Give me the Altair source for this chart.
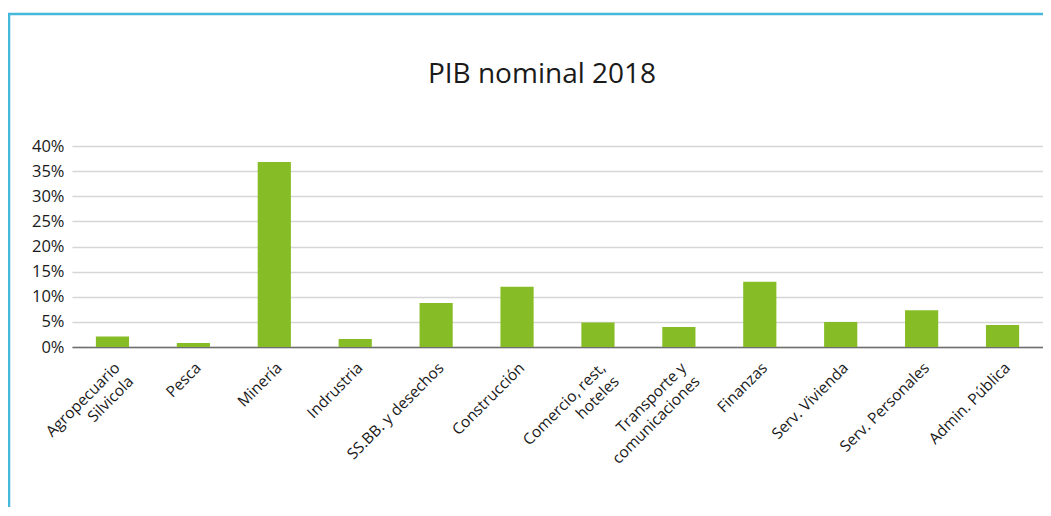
import altair as alt
import pandas as pd

title_text = "PIB nominal 2018"
categories = [
    "Agropecuario|Silvicola", "Pesca", "Minería", "Indrustria",
    "SS.BB. y desechos", "Construcción", "Comercio, rest,|hoteles",
    "Transporte y|comunicaciones", "Finanzas", "Serv. Vivienda",
    "Serv. Personales", "Admin. Pública",
]
values = [2.1, 0.8, 36.8, 1.6, 8.75, 12.0, 4.9, 4.0, 13.0, 5.0, 7.3, 4.4]
y_ticks = [0, 5, 10, 15, 20, 25, 30, 35, 40]

df = pd.DataFrame({"sector": categories, "valor": values})

FONT = "Open Sans"

bars = alt.Chart(df).mark_bar(color="#86bc25").encode(
    x=alt.X(
        "sector:N", sort=categories, title=None,
        scale=alt.Scale(paddingInner=0.59, paddingOuter=0.295),
        axis=alt.Axis(
            labelAngle=-45, labelAlign="right", labelBaseline="top",
            labelExpr="split(datum.label, '|')",
            labelFont=FONT, labelFontSize=15.5, labelColor="#1a1a1a",
            labelPadding=13, labelLineHeight=19,
            ticks=False, domainColor="#6e6e6e", domainWidth=1.5,
            grid=False,
        ),
    ),
    y=alt.Y(
        "valor:Q", title=None,
        scale=alt.Scale(domain=[0, 40], nice=False),
        axis=alt.Axis(
            values=y_ticks, labelExpr="datum.value + '%'",
            labelFont=FONT, labelFontSize=16.5, labelColor="#1a1a1a",
            labelPadding=8, ticks=False, domain=False,
            gridColor="#d6d6d6", gridWidth=1.5,
        ),
    ),
)

frame = pd.DataFrame({"t": [title_text]})
border_left = alt.Chart(frame).mark_rule(color="#45b8dc", strokeWidth=2.5).encode(
    x=alt.value(-63), y=alt.value(-132), y2=alt.value(380)
)
border_top = alt.Chart(frame).mark_rule(color="#45b8dc", strokeWidth=2.5).encode(
    x=alt.value(-64), x2=alt.value(990), y=alt.value(-132)
)
title = alt.Chart(frame).mark_text(
    font=FONT, fontSize=28, color="#1a1a1a", align="center", baseline="alphabetic"
).encode(text="t:N", x=alt.value(470), y=alt.value(-63))

chart = alt.layer(bars, border_left, border_top, title).properties(
    width=971, height=201,
    padding={"left": 64, "top": 138, "right": 0, "bottom": 160},
    autosize=alt.AutoSizeParams(type="none"),
).configure_view(stroke=None)

chart.save("out.html", embed_options={"renderer": "svg", "actions": False})
